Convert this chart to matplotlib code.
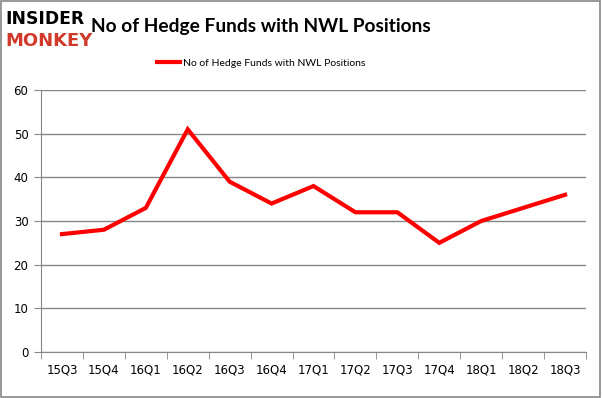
import matplotlib.pyplot as plt
import numpy as np

# Data
quarters = ['15Q3', '15Q4', '16Q1', '16Q2', '16Q3', '16Q4', '17Q1',
            '17Q2', '17Q3', '17Q4', '18Q1', '18Q2', '18Q3']
funds = [27, 28, 33, 51, 39, 34, 38, 32, 32, 25, 30, 33, 36]
y_ticks = [0, 10, 20, 30, 40, 50, 60]

series_label = 'No of Hedge Funds with NWL Positions'
axis_gray = '#868686'

fig = plt.figure(figsize=(6.02, 3.98), dpi=100)
ax = fig.add_axes([41 / 602, 1 - 352 / 398, 545 / 602, 262 / 398])

x = np.arange(len(quarters))
line, = ax.plot(x, funds, color='#ff0000', linewidth=3, solid_joinstyle='miter',
                label=series_label)

ax.set_xlim(-0.5, len(quarters) - 0.5)
ax.set_ylim(0, 60)
ax.set_yticks(y_ticks)
ax.yaxis.grid(True, color=axis_gray, linewidth=1)
ax.set_axisbelow(True)

# category labels in the middle, tick marks on the boundaries
ax.set_xticks(x)
ax.set_xticklabels(quarters)
ax.set_xticks(np.arange(-0.5, len(quarters)), minor=True)
ax.tick_params(axis='x', which='major', length=0, pad=8, labelsize=8.5)
ax.tick_params(axis='x', which='minor', length=5, color=axis_gray, direction='out')
ax.tick_params(axis='y', length=5, color=axis_gray, labelsize=8.5, pad=4)

for side in ['top', 'right']:
    ax.spines[side].set_visible(False)
for side in ['left', 'bottom']:
    ax.spines[side].set_color(axis_gray)

# title and logo
fig.text(0.434, 0.933, 'No of Hedge Funds with NWL Positions', ha='center', va='center',
         fontsize=13.8, fontweight='bold', family='Lato')
fig.text(0.009, 0.952, 'INSIDER', ha='left', va='center', fontsize=12.3,
         fontweight='heavy', color='black', family='DejaVu Sans')
fig.text(0.009, 0.897, 'MONKEY', ha='left', va='center', fontsize=13,
         fontweight='heavy', color='#d13a2b', family='DejaVu Sans')

# legend
fig.legend(handles=[line], loc='center', bbox_to_anchor=(0.434, 0.842), frameon=False,
           handlelength=2.2, handletextpad=0.25,
           prop={'family': 'Lato', 'size': 7.5})

# outer border
fig.patches.append(plt.Rectangle((0.002, 0.003), 0.995, 0.994, transform=fig.transFigure,
                                 fill=False, edgecolor=axis_gray, linewidth=1.2))

fig.savefig('out.png', dpi=100)
